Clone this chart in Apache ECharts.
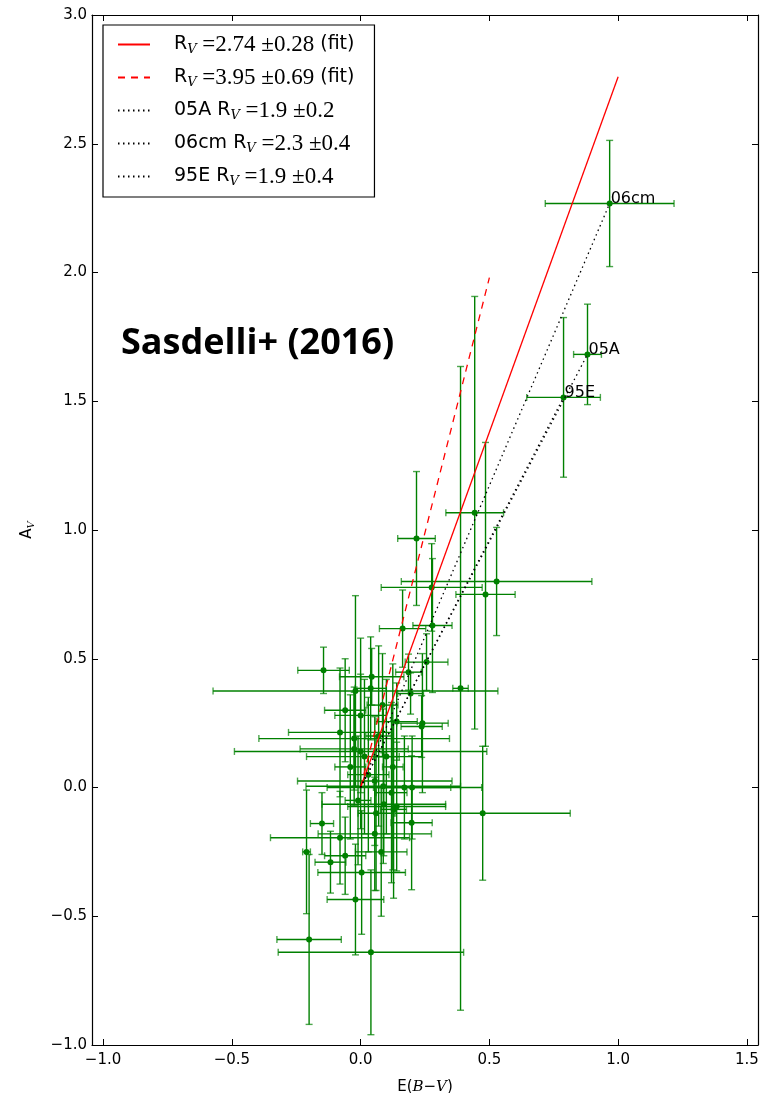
<!DOCTYPE html>
<html>
<head>
<meta charset="utf-8">
<script src="https://cdn.jsdelivr.net/npm/echarts@6/dist/echarts.min.js"></script>
<style>
  html, body { margin: 0; padding: 0; background: #fff; }
  #chart { width: 770px; height: 1093px; }
</style>
</head>
<body>
<div id="chart"></div>
<script>
// tick values
const xTicks = [-1.0, -0.5, 0.0, 0.5, 1.0, 1.5];

// SN sample: [E(B-V), A_V, err E(B-V), err A_V]
const points = [
  [0.967, 2.268, 0.25, 0.245],
  [0.881, 1.682, 0.054, 0.195],
  [0.788, 1.515, 0.143, 0.31],
  [0.443, 1.067, 0.112, 0.84],
  [0.528, 0.80, 0.37, 0.21],
  [0.485, 0.75, 0.115, 0.59],
  [0.217, 0.967, 0.073, 0.26],
  [0.276, 0.777, 0.196, 0.17],
  [0.279, 0.629, 0.076, 0.26],
  [0.163, 0.617, 0.09, 0.15],
  [0.388, 0.385, 0.03, 1.25],
  [0.256, 0.487, 0.083, 0.11],
  [0.186, 0.448, 0.05, 0.07],
  [-0.144, 0.455, 0.10, 0.09],
  [0.043, 0.43, 0.125, 0.11],
  [-0.02, 0.375, 0.553, 0.37],
  [0.039, 0.385, 0.06, 0.20],
  [0.194, 0.365, 0.05, 0.08],
  [0.14, 0.256, 0.08, 0.15],
  [0.237, 0.237, 0.08, 0.12],
  [0.085, 0.32, 0.06, 0.2],
  [-0.08, 0.214, 0.2, 0.25],
  [0.474, -0.10, 0.34, 0.26],
  [0.04, -0.64, 0.36, 0.32],
  [-0.2, -0.59, 0.125, 0.33],
  [-0.21, -0.25, 0.015, 0.24],
  [-0.15, -0.14, 0.045, 0.12],
  [0.198, -0.137, 0.08, 0.26],
  [-0.06, -0.265, 0.08, 0.15],
  [0.08, -0.25, 0.1, 0.25],
  [-0.117, -0.29, 0.06, 0.12],
  [0.004, -0.33, 0.17, 0.24],
  [-0.02, -0.435, 0.11, 0.215],
  [0.2, 0.0, 0.15, 0.2],
  [0.14, -0.074, 0.19, 0.25],
  [0.0, 0.14, 0.49, 0.3],
  [-0.025, 0.19, 0.37, 0.2],
  [0.055, 0.025, 0.3, 0.25],
  [0.088, 0.005, 0.3, 0.3],
  [-0.025, 0.15, 0.21, 0.22],
  [0.015, 0.12, 0.225, 0.3],
  [0.09, -0.065, 0.24, 0.2],
  [0.055, -0.18, 0.22, 0.22],
  [-0.08, -0.195, 0.27, 0.18],
  [0.17, 0.0, 0.3, 0.2],
  [0.128, -0.085, 0.05, 0.345],
  [0.03, 0.05, 0.08, 0.3],
  [0.1, 0.12, 0.05, 0.3],
  [0.12, -0.02, 0.06, 0.35],
  [-0.04, 0.08, 0.06, 0.28],
  [0.06, -0.1, 0.07, 0.3],
  [-0.01, -0.05, 0.05, 0.25],
  [0.125, 0.08, 0.04, 0.4],
  [0.0, 0.28, 0.1, 0.3],
  [-0.06, 0.3, 0.08, 0.2],
  [0.07, 0.2, 0.05, 0.35],
  [0.24, 0.25, 0.1, 0.27]
];

// named SNe and their labels
const snNames = ['06cm', '05A', '95E'];
const snPoints = [[0.967, 2.268], [0.881, 1.682], [0.788, 1.515]];

// fit lines
const fitSolid = [[0, 0], [1.0, 2.76]];
const fitDashed = [[0, 0], [0.5, 1.98]];
const line05A = [[0, 0], [0.881, 1.682]];
const line06cm = [[0, 0], [0.967, 2.268]];
const line95E = [[0, 0], [0.788, 1.515]];

const legendText = {
  fit1: ['', '2.74', '0.28', ' (fit)'],
  fit2: ['', '3.95', '0.69', ' (fit)'],
  '05A': ['05A ', '1.9', '0.2', ''],
  '06cm': ['06cm ', '2.3', '0.4', ''],
  '95E': ['95E ', '1.9', '0.4', '']
};

const GREEN = '#008000';
const fmt = v => (v < 0 ? '\u2212' : '') + Math.abs(v).toFixed(1);

let myChart = echarts.init(document.getElementById('chart'));

function errBar(params, api) {
  const x = api.value(0), y = api.value(1), ex = api.value(2), ey = api.value(3);
  const l = api.coord([x - ex, y]), r = api.coord([x + ex, y]);
  const t = api.coord([x, y + ey]), b = api.coord([x, y - ey]);
  const cap = 3.5;
  const st = { stroke: GREEN, lineWidth: 1.4 };
  const cs = { stroke: GREEN, lineWidth: 1.4, opacity: 0.7 };
  return {
    type: 'group',
    children: [
      { type: 'line', shape: { x1: l[0], y1: l[1], x2: r[0], y2: r[1] }, style: st },
      { type: 'line', shape: { x1: t[0], y1: t[1], x2: b[0], y2: b[1] }, style: st },
      { type: 'line', shape: { x1: l[0], y1: l[1] - cap, x2: l[0], y2: l[1] + cap }, style: cs },
      { type: 'line', shape: { x1: r[0], y1: r[1] - cap, x2: r[0], y2: r[1] + cap }, style: cs },
      { type: 'line', shape: { x1: t[0] - cap, y1: t[1], x2: t[0] + cap, y2: t[1] }, style: cs },
      { type: 'line', shape: { x1: b[0] - cap, y1: b[1], x2: b[0] + cap, y2: b[1] }, style: cs }
    ]
  };
}

const lineBase = { type: 'line', symbol: 'none', z: 5, animation: false };
const frame = { onZero: false, lineStyle: { color: '#000', width: 1.2 } };

myChart.setOption({
  animation: false,
  grid: { left: 92, top: 15, right: 12, bottom: 48, outerBoundsMode: 'none', containLabel: false },
  xAxis: [
    {
      type: 'value', min: -1.043, max: 1.543,
      name: '{n|E(}{i|B}{n|\u2212}{i|V}{n|)}',
      nameLocation: 'middle', nameGap: 35,
      nameTextStyle: {
        rich: {
          n: { fontFamily: 'DejaVu Sans', fontSize: 15, color: '#000' },
          i: { fontFamily: 'DejaVu Serif', fontStyle: 'italic', fontSize: 15, color: '#000' }
        }
      },
      axisLine: frame,
      axisTick: { inside: true, length: 6, customValues: xTicks, lineStyle: { color: '#000' } },
      axisLabel: { customValues: xTicks, formatter: fmt, margin: 8, color: '#000',
        fontFamily: 'DejaVu Sans', fontSize: 15 },
      splitLine: { show: false }
    },
    {
      type: 'value', position: 'top', min: -1.043, max: 1.543,
      axisLine: frame,
      axisTick: { inside: true, length: 6, customValues: xTicks, lineStyle: { color: '#000' } },
      axisLabel: { show: false },
      splitLine: { show: false }
    }
  ],
  yAxis: [
    {
      type: 'value', min: -1, max: 3, interval: 0.5,
      name: '{a|A}{v|V}',
      nameLocation: 'middle', nameGap: 56, nameRotate: 90,
      nameTextStyle: {
        rich: {
          a: { fontFamily: 'DejaVu Sans', fontSize: 15, color: '#000' },
          v: { fontFamily: 'DejaVu Serif', fontStyle: 'italic', fontSize: 10, color: '#000', padding: [8, 0, 0, 0] }
        }
      },
      axisLine: frame,
      axisTick: { inside: true, length: 6, lineStyle: { color: '#000' } },
      axisLabel: { formatter: fmt, margin: 5, color: '#000', fontFamily: 'DejaVu Sans', fontSize: 15 },
      splitLine: { show: false }
    },
    {
      type: 'value', position: 'right', min: -1, max: 3, interval: 0.5,
      axisLine: frame,
      axisTick: { inside: true, length: 6, lineStyle: { color: '#000' } },
      axisLabel: { show: false },
      splitLine: { show: false }
    }
  ],
  legend: {
    orient: 'vertical', left: 103, top: 25,
    padding: [8, 20, 9, 14], itemGap: 10,
    itemWidth: 32, itemHeight: 14,
    itemStyle: { opacity: 0 },
    borderColor: '#000', borderWidth: 1.2, borderRadius: 0,
    backgroundColor: '#fff',
    data: ['fit1', 'fit2', '05A', '06cm', '95E'],
    formatter: name => {
      const t = legendText[name];
      return '{r|' + t[0] + 'R}{s|V}{m| =' + t[1] + ' \u00b1' + t[2] + '}' + (t[3] ? '{r|' + t[3] + '}' : '');
    },
    textStyle: {
      padding: [0, 0, 0, 19],
      rich: {
        r: { fontFamily: 'DejaVu Sans', fontSize: 19, color: '#000' },
        s: { fontFamily: 'DejaVu Serif', fontStyle: 'italic', fontSize: 13, color: '#000', padding: [10, 0, 0, 0] },
        m: { fontFamily: 'Liberation Serif', fontSize: 23, color: '#000' }
      }
    }
  },
  graphic: [
    {
      type: 'text', left: 121, top: 326,
      style: { text: 'Sasdelli+ (2016)', font: 'bold 36px "Open Sans"', fill: '#000' }
    }
  ],
  series: [
    {
      type: 'custom', renderItem: errBar, data: points, z: 2, clip: true,
      encode: { x: 0, y: 1 }
    },
    {
      type: 'scatter', data: points.map(p => [p[0], p[1]]), symbolSize: 6,
      itemStyle: { color: GREEN, opacity: 1 }, z: 3
    },
    Object.assign({ name: 'fit1', data: fitSolid, lineStyle: { color: '#ff0000', width: 1.3, type: 'solid' }, itemStyle: { color: '#ff0000' } }, lineBase),
    Object.assign({ name: 'fit2', data: fitDashed, lineStyle: { color: '#ff0000', width: 1.3, type: [7, 6] }, itemStyle: { color: '#ff0000' } }, lineBase),
    Object.assign({ name: '05A', data: line05A, lineStyle: { color: '#000', width: 1.3, type: [1.5, 3.5] }, itemStyle: { color: '#000' } }, lineBase),
    Object.assign({ name: '06cm', data: line06cm, lineStyle: { color: '#000', width: 1.3, type: [1.5, 3.5] }, itemStyle: { color: '#000' } }, lineBase),
    Object.assign({ name: '95E', data: line95E, lineStyle: { color: '#000', width: 1.3, type: [1.5, 3.5] }, itemStyle: { color: '#000' } }, lineBase),
    {
      type: 'custom', z: 6,
      data: snPoints.map((p, i) => [p[0], p[1], i]),
      renderItem: (params, api) => {
        const c = api.coord([api.value(0), api.value(1)]);
        return {
          type: 'text', x: c[0] + 1, y: c[1] + 3,
          style: { text: snNames[api.value(2)], fill: '#000', font: '16px DejaVu Sans', align: 'left', verticalAlign: 'bottom' }
        };
      }
    }
  ]
});
</script>
</body>
</html>
